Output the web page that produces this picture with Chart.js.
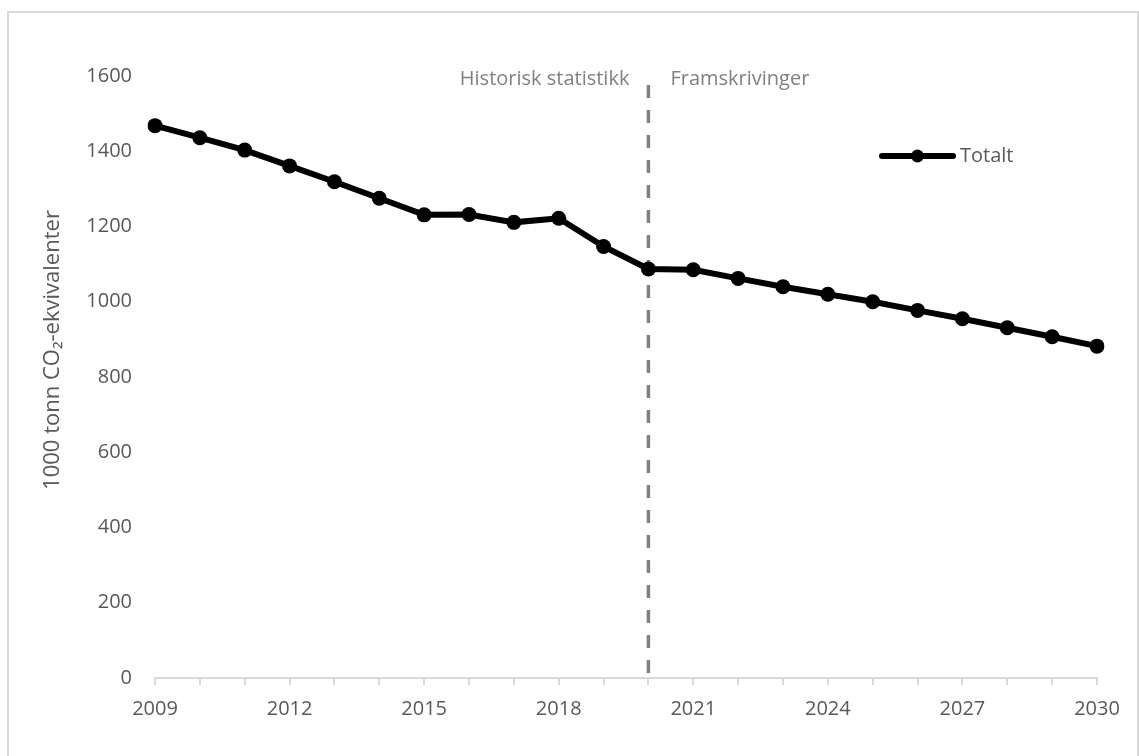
<!DOCTYPE html>
<html>
<head>
<meta charset="utf-8">
<script src="https://cdn.jsdelivr.net/npm/chart.js@4.4.1/dist/chart.umd.min.js"></script>
<style>
  html, body { margin: 0; padding: 0; background: #ffffff; }
  #wrap { width: 1139px; height: 756px; }
</style>
</head>
<body>
<div id="wrap"><canvas id="c" width="1139" height="756"></canvas></div>
<script>
// ---- Data ----
const years = ['2009','2010','2011','2012','2013','2014','2015','2016','2017','2018','2019',
               '2020','2021','2022','2023','2024','2025','2026','2027','2028','2029','2030'];
const totalt = [1468, 1436, 1403, 1361, 1319, 1275, 1231, 1232, 1211, 1222, 1147,
                1087, 1085, 1062, 1040, 1020, 1000, 977, 955, 931, 907, 882];
const seriesLabel = 'Totalt';
const yAxisTitle = '1000 tonn CO\u2082-ekvivalenter';
const yTicks = [0, 200, 400, 600, 800, 1000, 1200, 1400, 1600];
const dividerYear = '2020';
const leftNote = 'Historisk statistikk';
const rightNote = 'Framskrivinger';

const FONT = '"Open Sans", "Liberation Sans", sans-serif';
const TEXT = '#595959';
const AXIS = '#d9d9d9';

const framePlugin = {
  id: 'frame',
  beforeDraw(chart) {
    const ctx = chart.ctx;
    ctx.save();
    ctx.fillStyle = '#ffffff';
    ctx.fillRect(0, 0, chart.width, chart.height);
    ctx.strokeStyle = AXIS;
    ctx.lineWidth = 2;
    ctx.strokeRect(8, 12, chart.width - 9, chart.height + 20);
    ctx.restore();
  }
};

const yTitlePlugin = {
  id: 'yTitle',
  afterDraw(chart) {
    const ctx = chart.ctx;
    const area = chart.chartArea;
    ctx.save();
    ctx.translate(53, (area.top + area.bottom) / 2 - 27);
    ctx.rotate(-Math.PI / 2);
    ctx.fillStyle = TEXT;
    ctx.font = '22px ' + FONT;
    ctx.textAlign = 'center';
    ctx.textBaseline = 'middle';
    ctx.fillText(yAxisTitle, 0, 0);
    ctx.restore();
  }
};

const dividerPlugin = {
  id: 'divider',
  beforeDatasetsDraw(chart) {
    const ctx = chart.ctx;
    const xs = chart.scales.x;
    const area = chart.chartArea;
    const x = xs.getPixelForValue(years.indexOf(dividerYear));
    ctx.save();
    ctx.strokeStyle = '#808080';
    ctx.lineWidth = 3.5;
    ctx.setLineDash([13, 12]);
    ctx.beginPath();
    ctx.moveTo(x, area.top + 9);
    ctx.lineTo(x, area.bottom);
    ctx.stroke();
    ctx.setLineDash([]);
    ctx.fillStyle = '#808080';
    ctx.font = '20px ' + FONT;
    ctx.textBaseline = 'middle';
    ctx.textAlign = 'right';
    ctx.fillText(leftNote, x - 19, area.top + 3);
    ctx.textAlign = 'left';
    ctx.fillText(rightNote, x + 22, area.top + 3);
    ctx.restore();
  }
};

const legendPlugin = {
  id: 'customLegend',
  afterDatasetsDraw(chart) {
    const ctx = chart.ctx;
    const ds = chart.data.datasets[0];
    const area = chart.chartArea;
    const x0 = area.right - 215, x1 = area.right - 144, y = area.top + 80;
    ctx.save();
    ctx.strokeStyle = ds.borderColor;
    ctx.lineWidth = 6;
    ctx.lineCap = 'round';
    ctx.beginPath();
    ctx.moveTo(x0, y);
    ctx.lineTo(x1, y);
    ctx.stroke();
    ctx.fillStyle = ds.pointBackgroundColor;
    ctx.beginPath();
    ctx.arc((x0 + x1) / 2, y, 6.5, 0, Math.PI * 2);
    ctx.fill();
    ctx.fillStyle = TEXT;
    ctx.font = '20px ' + FONT;
    ctx.textAlign = 'left';
    ctx.textBaseline = 'middle';
    ctx.fillText(ds.label, x1 + 7, y);
    ctx.restore();
  }
};

new Chart(document.getElementById('c'), {
  type: 'line',
  data: {
    labels: years,
    datasets: [{
      label: seriesLabel,
      data: totalt,
      borderColor: '#000000',
      backgroundColor: '#000000',
      pointBackgroundColor: '#000000',
      pointBorderColor: '#000000',
      borderWidth: 6,
      pointRadius: 7.5,
      pointBorderWidth: 0,
      tension: 0,
      fill: false
    }]
  },
  options: {
    responsive: false,
    animation: false,
    devicePixelRatio: 1,
    layout: { padding: { top: 76, right: 42, left: 0, bottom: 0 } },
    plugins: {
      legend: { display: false },
      tooltip: { enabled: false }
    },
    scales: {
      x: {
        type: 'category',
        offset: false,
        grid: {
          display: true,
          drawOnChartArea: false,
          drawTicks: true,
          tickLength: 7,
          color: AXIS,
          lineWidth: 2,
          offset: false
        },
        border: { display: true, color: AXIS, width: 2 },
        ticks: {
          autoSkip: false,
          maxRotation: 0,
          color: TEXT,
          font: { family: FONT, size: 20 },
          padding: 12,
          callback: function(v, i) { return (i % 3 === 0) ? years[i] : ''; }
        },
        afterFit(s) { s.height = 78; }
      },
      y: {
        min: 0,
        max: 1600,
        afterBuildTicks(s) { s.ticks = yTicks.map(v => ({ value: v })); },
        grid: { display: false, drawTicks: false },
        border: { display: false },
        ticks: {
          color: TEXT,
          font: { family: FONT, size: 20 },
          padding: 23,
          callback: function(v) { return String(v); }
        },
        title: { display: false },
        afterFit(s) { s.width = 155; }
      }
    }
  },
  plugins: [framePlugin, yTitlePlugin, dividerPlugin, legendPlugin]
});
</script>
</body>
</html>
